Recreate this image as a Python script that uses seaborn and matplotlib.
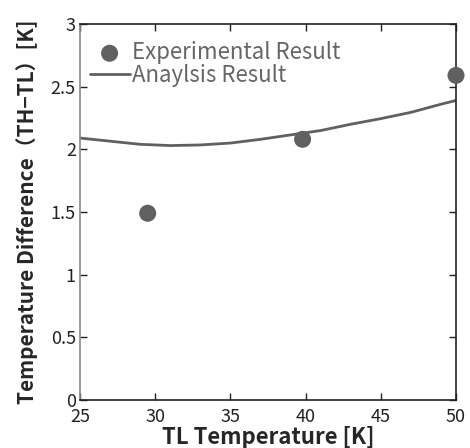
import matplotlib
matplotlib.use("Agg")
import matplotlib.pyplot as plt
import seaborn as sns
import pandas as pd

exp_x = [29.5, 39.8, 50.0]
exp_y = [1.49, 2.08, 2.59]
ana_x = [25, 27, 29, 31, 33, 35, 37, 39, 41, 43, 45, 47, 49, 50]
ana_y = [2.09, 2.065, 2.04, 2.03, 2.035, 2.05, 2.08, 2.115, 2.15, 2.20, 2.245, 2.295, 2.36, 2.39]
xticks = [25, 30, 35, 40, 45, 50]
yticks = [0, 0.5, 1, 1.5, 2, 2.5, 3]
yticklabels = ["0", "0.5", "1", "1.5", "2", "2.5", "3"]

sns.set_style("ticks")
plt.rcParams['font.family'] = ['Noto Sans CJK JP', 'DejaVu Sans']

fig = plt.figure(figsize=(4.7, 4.48), dpi=100)
ax = fig.add_axes([80/470, 48/448, 376/470, 376/448])

grey = "#606060"
sns.lineplot(x=ana_x, y=ana_y, ax=ax, color=grey, lw=2, label="Anaylsis Result", zorder=2)
sns.scatterplot(x=exp_x, y=exp_y, ax=ax, color=grey, s=150, edgecolor="none",
                label="Experimental Result", zorder=3, clip_on=False)

ax.set_xlim(25, 50)
ax.set_ylim(0, 3)
ax.set_xticks(xticks)
ax.set_yticks(yticks)
ax.set_yticklabels(yticklabels)
ax.tick_params(direction="in", top=True, right=True, length=5, width=1,
               labelsize=13, colors="#222222", pad=3)
ax.tick_params(axis="x", pad=6)
for s in ax.spines.values():
    s.set_color("#222222")
    s.set_linewidth(1.2)
ax.spines["left"].set_color("#888888")

ax.set_xlabel("TL Temperature [K]", fontsize=16, fontweight="bold", va="center")
ax.xaxis.set_label_coords(0.5, -0.100)
ax.set_ylabel("Temperature Difference（TH−TL）[K]", fontsize=15, fontweight="bold", va="center")
ax.yaxis.set_label_coords(-0.141, 0.5)

h, l = ax.get_legend_handles_labels()
order = [1, 0]
leg = ax.legend([h[i] for i in order], [l[i] for i in order], loc="upper left",
                bbox_to_anchor=(-0.01, 0.99), frameon=False, fontsize=16,
                handlelength=1.8, handletextpad=0.1, labelspacing=0.0,
                borderaxespad=0.2)
for t in leg.get_texts():
    t.set_color("#666666")

fig.savefig("out.png", dpi=100)
